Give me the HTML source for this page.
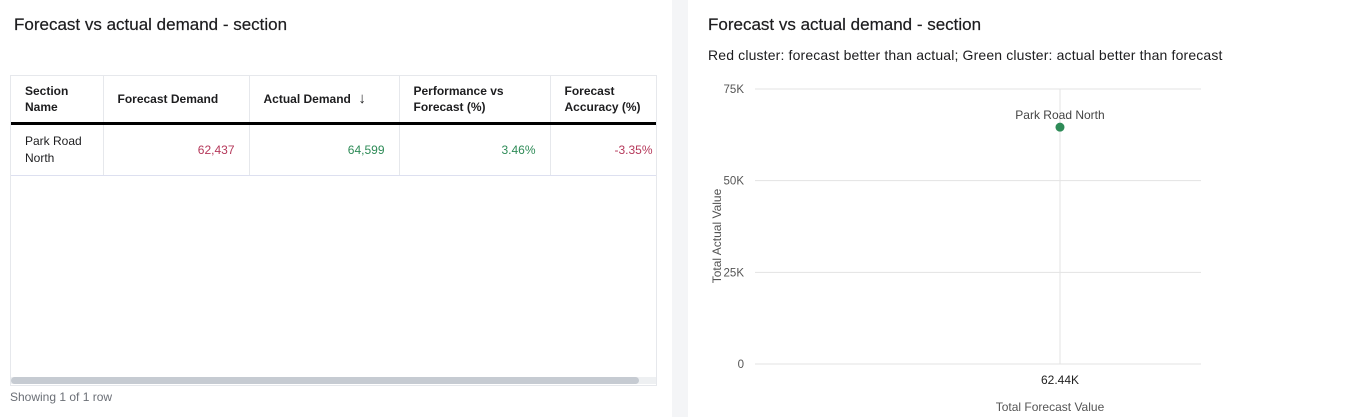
<!DOCTYPE html>
<html><head><meta charset="utf-8"><style>
body{margin:0;width:1362px;height:417px;background:#f4f5f7;font-family:"Liberation Sans",sans-serif;position:relative;overflow:hidden}
.panel{position:absolute;top:0;height:417px;background:#fff}
h2{position:absolute;margin:0;font-size:17px;font-weight:normal;color:#1d1d1f;-webkit-text-stroke:0.2px #1d1d1f}
table{border-collapse:collapse;font-size:12px;color:#1d1d1f;table-layout:fixed}
th{font-weight:bold;text-align:left;vertical-align:middle;padding:0 14px;height:46px;border-right:1px solid #e6e8ec;border-bottom:3px solid #000;line-height:16px;overflow:hidden;white-space:nowrap}
td{padding:0 14px;height:50px;border-right:1px solid #e6e8ec;border-bottom:1px solid #dde0f0;line-height:17px;text-align:right;white-space:nowrap}
</style></head><body>
<div class="panel" style="left:0;width:672px">
<h2 style="left:14px;top:15px">Forecast vs actual demand - section</h2>
<div style="position:absolute;left:10px;top:75px;width:645px;height:309px;border:1px solid #e6e8ec;overflow:hidden">
<table style="width:660px">
<colgroup><col style="width:92px"><col style="width:146px"><col style="width:150px"><col style="width:151px"><col style="width:121px"></colgroup>
<tr>
<th>Section<br>Name</th>
<th>Forecast Demand</th>
<th>Actual Demand <span style="font-size:15px;font-weight:normal">&nbsp;↓</span></th>
<th>Performance vs<br>Forecast (%)</th>
<th style="border-right:none;padding-right:0">Forecast<br>Accuracy (%)</th>
</tr>
<tr>
<td style="text-align:left">Park Road<br>North</td>
<td style="color:#b5385a">62,437</td>
<td style="color:#2e8b57">64,599</td>
<td style="color:#2e8b57">3.46%</td>
<td style="color:#b5385a;border-right:none;padding-right:14px;text-align:left;padding-left:64px">-3.35%</td>
</tr>
</table>
<div style="position:absolute;left:0;top:301px;width:645px;height:7px;background:#eef0f2"><div style="width:628px;height:7px;background:#c6cbd2;border-radius:4px"></div></div>
</div>
<div style="position:absolute;left:10px;top:390px;font-size:12px;color:#6b6f76">Showing 1 of 1 row</div>
</div>
<div class="panel" style="left:688px;width:674px">
<h2 style="left:20px;top:15px">Forecast vs actual demand - section</h2>
<div style="position:absolute;left:20px;top:47px;font-size:14px;letter-spacing:0.15px;color:#1d1d1f">Red cluster: forecast better than actual; Green cluster: actual better than forecast</div>
</div>
<svg id="chart" width="1362" height="417" style="position:absolute;left:0;top:0" font-family="Liberation Sans, sans-serif"></svg>
<script>
const labels=["Park Road North"];
const forecast=[62437];
const actual=[64599];
const yTicks=[0,25000,50000,75000];
const yTickLabels=["0","25K","50K","75K"];
const xTickLabels=["62.44K"];
const svg=document.getElementById('chart');
const NS="http://www.w3.org/2000/svg";
const X0=755,X1=1201,Y0=364,Y1=89;
const xMin=56000,xMax=65413;
function xs(v){return X0+(v-xMin)/(xMax-xMin)*(X1-X0);}
function ys(v){return Y0-(v-0)/(75000-0)*(Y0-Y1);}
function mk(t,a){const e=document.createElementNS(NS,t);for(const k in a)e.setAttribute(k,a[k]);svg.appendChild(e);return e;}
yTicks.forEach((v,i)=>{
 const l=mk('line',{x1:X0,x2:X1,y1:ys(v),y2:ys(v),stroke:'#e3e3e3'});
 
 
 const t=mk('text',{x:744,y:ys(v)+4,'font-size':11.5,fill:'#555','text-anchor':'end'});
 t.textContent=yTickLabels[i];
 
 
});
forecast.forEach((f,i)=>{
 const g=mk('line',{x1:xs(f),x2:xs(f),y1:Y1,y2:Y0,stroke:'#e3e3e3'});
 
 
 const tl=mk('text',{x:xs(f),y:384,'font-size':12,fill:'#222','text-anchor':'middle'});
 tl.textContent=xTickLabels[i];
 
 
 const c=mk('circle',{cx:xs(f),cy:ys(actual[i]),r:4.5,fill:'#2e8b57'});
 
 
 const lb=mk('text',{x:xs(f),y:ys(actual[i])-8,'font-size':12,fill:'#444','text-anchor':'middle'});
 lb.textContent=labels[i];
 
 
});
const xt=mk('text',{x:1050,y:411,'font-size':12,fill:'#555','text-anchor':'middle'});
xt.textContent="Total Forecast Value";


const yt=mk('text',{x:0,y:0,'font-size':12,fill:'#555','text-anchor':'middle',transform:'translate(721,236) rotate(-90)'});
yt.textContent="Total Actual Value";


</script>
</body></html>
